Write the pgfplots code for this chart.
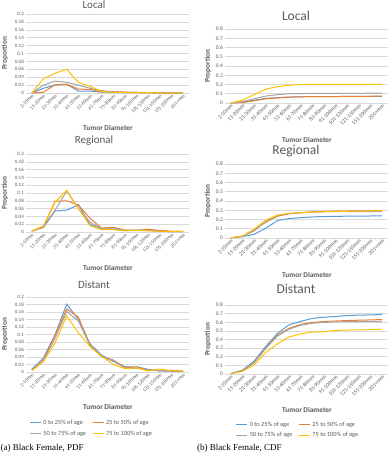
\documentclass[border=0pt]{standalone}
\usepackage{pgfplots}
\pgfplotsset{compat=1.18}
\usepackage{pgfplotstable}
\usepackage{fontspec}
\setmainfont{Carlito}
\newfontfamily\capfont{Liberation Serif}
\definecolor{cB}{HTML}{5B9BD5}
\definecolor{cO}{HTML}{ED7D31}
\definecolor{cG}{HTML}{A5A5A5}
\definecolor{cY}{HTML}{FFC000}
\definecolor{gridc}{HTML}{D9D9D9}
\definecolor{txt}{HTML}{595959}

% PDF tables
\pgfplotstableread{
x b o g y
0 0.000 0.000 0.000 0.000
1 0.012 0.002 0.020 0.036
2 0.020 0.021 0.030 0.050
3 0.022 0.022 0.027 0.060
4 0.005 0.010 0.020 0.027
5 0.005 0.009 0.012 0.017
6 0.002 0.003 0.006 0.004
7 0.002 0.004 0.003 0.002
8 0.001 0.002 0.002 0.001
9 0.001 0.001 0.002 0.001
10 0.001 0.001 0.001 0.001
11 0.000 0.000 0.001 0.000
12 0.000 0.000 0.001 0.000
13 0.000 0.001 0.001 0.001
}\LocalPDF
\pgfplotstableread{
x b o g y
0 0.002 0.002 0.002 0.002
1 0.012 0.013 0.015 0.016
2 0.054 0.079 0.056 0.077
3 0.056 0.080 0.105 0.107
4 0.070 0.069 0.060 0.060
5 0.019 0.035 0.025 0.016
6 0.009 0.010 0.008 0.006
7 0.008 0.012 0.010 0.006
8 0.004 0.005 0.004 0.003
9 0.005 0.004 0.004 0.004
10 0.004 0.007 0.004 0.003
11 0.002 0.004 0.002 0.002
12 0.001 0.002 0.001 0.001
13 0.001 0.001 0.002 0.002
}\RegionalPDF
\pgfplotstableread{
x b o g y
0 0.007 0.005 0.005 0.003
1 0.038 0.032 0.030 0.028
2 0.100 0.098 0.090 0.078
3 0.181 0.168 0.161 0.150
4 0.140 0.146 0.136 0.104
5 0.075 0.072 0.070 0.068
6 0.045 0.041 0.040 0.042
7 0.028 0.032 0.030 0.020
8 0.014 0.012 0.010 0.009
9 0.014 0.013 0.010 0.011
10 0.007 0.005 0.005 0.003
11 0.003 0.003 0.004 0.008
12 0.002 0.005 0.003 0.003
13 0.002 0.002 0.002 0.002
}\DistantPDF
% CDF tables
\pgfplotstableread{
x b o g y
0 0.000 0.000 0.000 0.000
1 0.010 0.004 0.015 0.032
2 0.030 0.024 0.045 0.090
3 0.050 0.045 0.075 0.150
4 0.058 0.055 0.090 0.177
5 0.064 0.064 0.100 0.192
6 0.067 0.067 0.102 0.200
7 0.069 0.069 0.103 0.201
8 0.070 0.070 0.104 0.201
9 0.070 0.070 0.104 0.201
10 0.071 0.071 0.105 0.202
11 0.071 0.072 0.105 0.202
12 0.072 0.073 0.106 0.202
13 0.073 0.075 0.106 0.203
}\LocalCDF
\pgfplotstableread{
x b o g y
0 0.002 0.002 0.002 0.002
1 0.014 0.018 0.018 0.022
2 0.040 0.090 0.075 0.095
3 0.105 0.170 0.180 0.195
4 0.188 0.235 0.240 0.248
5 0.210 0.262 0.265 0.268
6 0.220 0.272 0.273 0.274
7 0.228 0.282 0.280 0.280
8 0.232 0.288 0.284 0.284
9 0.234 0.290 0.285 0.287
10 0.236 0.292 0.286 0.289
11 0.237 0.293 0.286 0.291
12 0.238 0.294 0.286 0.293
13 0.239 0.296 0.287 0.296
}\RegionalCDF
\pgfplotstableread{
x b o g y
0 0.006 0.005 0.005 0.003
1 0.044 0.037 0.035 0.030
2 0.150 0.135 0.130 0.105
3 0.320 0.300 0.295 0.250
4 0.470 0.450 0.440 0.350
5 0.570 0.530 0.520 0.430
6 0.610 0.575 0.565 0.465
7 0.645 0.598 0.588 0.486
8 0.658 0.608 0.598 0.490
9 0.667 0.615 0.604 0.505
10 0.677 0.620 0.607 0.510
11 0.683 0.624 0.609 0.512
12 0.685 0.627 0.610 0.514
13 0.690 0.632 0.612 0.520
}\DistantCDF

\pgfplotsset{
  panel/.style={
    scale only axis, width=163pt,
    xmin=-0.5, xmax=13.5, ymin=0,
    axis line style={draw=none},
    ymajorgrids, grid style={draw=gridc, line width=0.6pt},
    major tick length=0pt,
    xtick={0,...,13},
    xticklabels={2-10mm,11-20mm,21-30mm,31-40mm,41-50mm,51-60mm,61-70mm,71-80mm,81-90mm,91-100mm,101-120mm,121-150mm,151-200mm,201+mm},
    x tick label style={rotate=45, anchor=north east, inner sep=0.5pt, text=txt},
    y tick label style={text=txt, inner sep=2pt},
    yticklabel style={/pgf/number format/fixed, /pgf/number format/precision=2, /pgf/number format/assume math mode=true},
    every axis plot/.append style={line width=1pt, mark=none},
    legend columns=2,
    legend cell align=left,
    legend image code/.code={\draw[#1, line width=1pt] (0pt,0pt) -- (11pt,0pt);},
  },
  pdf/.style={panel, ymax=0.2,
    ytick={0,0.02,0.04,0.06,0.08,0.1,0.12,0.14,0.16,0.18,0.2},
    tick label style={font=\fontsize{5}{6}\selectfont}},
  cdf/.style={panel, ymax=0.8,
    ytick={0,0.1,0.2,0.3,0.4,0.5,0.6,0.7,0.8},
    tick label style={font=\fontsize{5.5}{6.5}\selectfont}},
}

\newcommand{\fourplots}[1]{%
  \addplot[cB] table[x=x,y=b]{#1};
  \addplot[cO] table[x=x,y=o]{#1};
  \addplot[cG] table[x=x,y=g]{#1};
  \addplot[cY] table[x=x,y=y]{#1};
}

\begin{document}
\begin{tikzpicture}
\useasboundingbox (0pt,0pt) rectangle (391pt,-453pt);

% ---- left column (PDF)
\begin{axis}[pdf, at={(26pt,-93pt)}, anchor=south west, height=79pt]
\fourplots{\LocalPDF}
\end{axis}
\begin{axis}[pdf, at={(26pt,-232pt)}, anchor=south west, height=78pt]
\fourplots{\RegionalPDF}
\end{axis}
\begin{axis}[pdf, at={(26pt,-372pt)}, anchor=south west, height=75pt,
  legend style={at={(0.02,-0.61)}, anchor=north west, draw=none, fill=none,
    font=\fontsize{6.3}{7}\selectfont, text=txt, inner sep=0pt,
    /tikz/every even column/.append style={column sep=4pt},
    row sep=1pt}]
\fourplots{\DistantPDF}
\legend{0 to 25\% of age, 25 to 50\% of age, 50 to 75\% of age, 75 to 100\% of age}
\end{axis}

% ---- right column (CDF)
\begin{axis}[cdf, at={(225pt,-103pt)}, anchor=south west, height=74pt]
\fourplots{\LocalCDF}
\end{axis}
\begin{axis}[cdf, at={(225pt,-238pt)}, anchor=south west, height=74pt]
\fourplots{\RegionalCDF}
\end{axis}
\begin{axis}[cdf, at={(225pt,-374pt)}, anchor=south west, height=69pt,
  legend style={at={(0.065,-0.66)}, anchor=north west, draw=none, fill=none,
    font=\fontsize{6.3}{7}\selectfont, text=txt, inner sep=0pt,
    /tikz/every even column/.append style={column sep=4pt},
    row sep=1pt}]
\fourplots{\DistantCDF}
\legend{0 to 25\% of age, 25 to 50\% of age, 50 to 75\% of age, 75 to 100\% of age}
\end{axis}

% ---- titles
\tikzset{ttl/.style={text=txt, inner sep=0pt}, axl/.style={text=txt, font=\bfseries\fontsize{7.3}{8}\selectfont, inner sep=0pt}}
\node[ttl, font=\fontsize{11}{12}\selectfont] at (94pt,-4.5pt) {Local};
\node[ttl, font=\fontsize{11}{12}\selectfont] at (94pt,-141pt) {Regional};
\node[ttl, font=\fontsize{11}{12}\selectfont] at (94pt,-285pt) {Distant};
\node[ttl, font=\fontsize{13.5}{14}\selectfont] at (296pt,-16pt) {Local};
\node[ttl, font=\fontsize{13.5}{14}\selectfont] at (296pt,-151pt) {Regional};
\node[ttl, font=\fontsize{13.5}{14}\selectfont] at (296pt,-289pt) {Distant};
% axis labels
\node[axl] at (108pt,-128pt) {Tumor Diameter};
\node[axl] at (108pt,-268pt) {Tumor Diameter};
\node[axl] at (108pt,-407pt) {Tumor Diameter};
\node[axl] at (307pt,-140pt) {Tumor Diameter};
\node[axl] at (307pt,-275pt) {Tumor Diameter};
\node[axl] at (307pt,-410pt) {Tumor Diameter};
\node[axl, rotate=90] at (5pt,-53.5pt) {Proportion};
\node[axl, rotate=90] at (5pt,-193pt) {Proportion};
\node[axl, rotate=90] at (5pt,-334.5pt) {Proportion};
\node[axl, rotate=90] at (208pt,-66pt) {Proportion};
\node[axl, rotate=90] at (208pt,-201pt) {Proportion};
\node[axl, rotate=90] at (208pt,-339.5pt) {Proportion};
% captions
\node[anchor=base west, inner sep=0pt, font=\capfont\fontsize{9}{10}\selectfont] at (0.5pt,-450pt) {(a) Black Female, PDF};
\node[anchor=base west, inner sep=0pt, font=\capfont\fontsize{9}{10}\selectfont] at (197pt,-450pt) {(b) Black Female, CDF};
\end{tikzpicture}
\end{document}
